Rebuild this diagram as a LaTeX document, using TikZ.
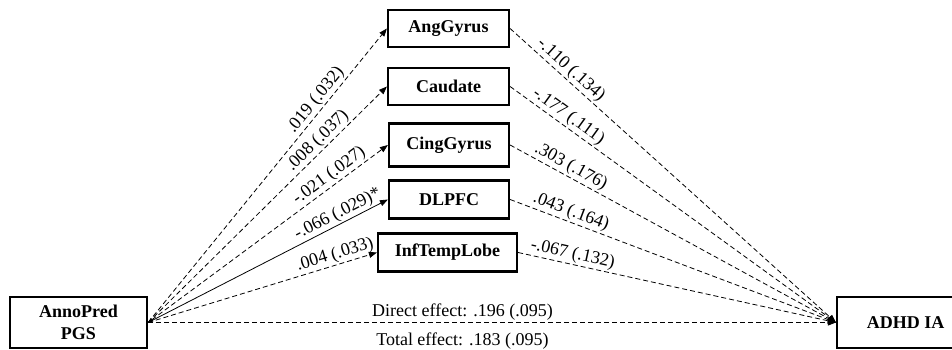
\documentclass[tikz,border=0pt]{standalone}
\usepackage{fontspec}
\setmainfont{Liberation Serif}
\usetikzlibrary{arrows.meta}
\begin{document}
\begin{tikzpicture}[x=1pt,y=-1pt,
  varbox/.style={draw, line width=2.2pt, inner sep=0pt, align=center,
    font=\fontsize{18}{22}\selectfont\bfseries},
  path/.style={line width=0.8pt, dash pattern=on 5pt off 3pt,
    -{Triangle[length=8pt,width=6pt]}},
  sigpath/.style={line width=0.8pt, -{Triangle[length=8pt,width=6pt]}},
  coef/.style={font=\fontsize{18}{20}\selectfont, inner sep=1.5pt, sloped, above},
  coefb/.style={font=\fontsize{18}{20}\selectfont, inner sep=1.5pt, below=8pt}]
\useasboundingbox (0,0) rectangle (952,349);
\clip (0,0) rectangle (952,349);

% variables
\node[varbox, minimum width=137pt, minimum height=51pt] (pgs) at (78.5,322.5) {AnnoPred\\PGS};
\node[varbox, minimum width=137pt, minimum height=51pt] (adhd) at (905.5,322.5) {ADHD IA};

% mediators
\node[varbox, minimum width=121pt, minimum height=37pt] (ang)  at (448.5,28.5) {AngGyrus};
\node[varbox, minimum width=121pt, minimum height=37pt] (caud) at (448.5,86.5) {Caudate};
\node[varbox, minimum width=120pt, minimum height=43pt] (cing) at (449,145) {CingGyrus};
\node[varbox, minimum width=120pt, minimum height=38pt] (dlpfc) at (449,199.5) {DLPFC};
\node[varbox, minimum width=139pt, minimum height=38pt] (itl) at (447.5,252.5) {InfTempLobe};

% a paths
\draw[path] (pgs.east) -- (ang.west) node[coef, pos=.735] {.019 (.032)};
\draw[path] (pgs.east) -- (caud.west) node[coef, pos=.74] {.008 (.037)};
\draw[path, {Triangle[length=5pt,width=4pt]}-{Triangle[length=8pt,width=6pt]}] (pgs.east) -- (cing.west) node[coef, pos=.78] {-.021 (.027)};
\draw[sigpath] (pgs.east) -- (dlpfc.west) node[coef, pos=.81] {-.066 (.029)*};
\draw[path] (pgs.east) -- (itl.west) node[coef, pos=.83] {.004 (.033)};

% b paths
\draw[path] (ang.east) -- (adhd.west) node[coef, pos=.166] {-.110 (.134)};
\draw[path] (caud.east) -- (adhd.west) node[coef, pos=.161] {-.177 (.111)};
\draw[path] (cing.east) -- (adhd.west) node[coef, pos=.172] {.303 (.176)};
\draw[path] (dlpfc.east) -- (adhd.west) node[coef, pos=.176] {.043 (.164)};
\draw[path] (itl.east) -- (adhd.west) node[coef, pos=.165] {-.067 (.132)};

% c path
\draw[path] (pgs.east) -- (adhd.west)
  node[coef, pos=.457] {Direct effect: .196 (.095)}
  node[coefb, pos=.457] {Total effect: .183 (.095)};
\end{tikzpicture}
\end{document}
